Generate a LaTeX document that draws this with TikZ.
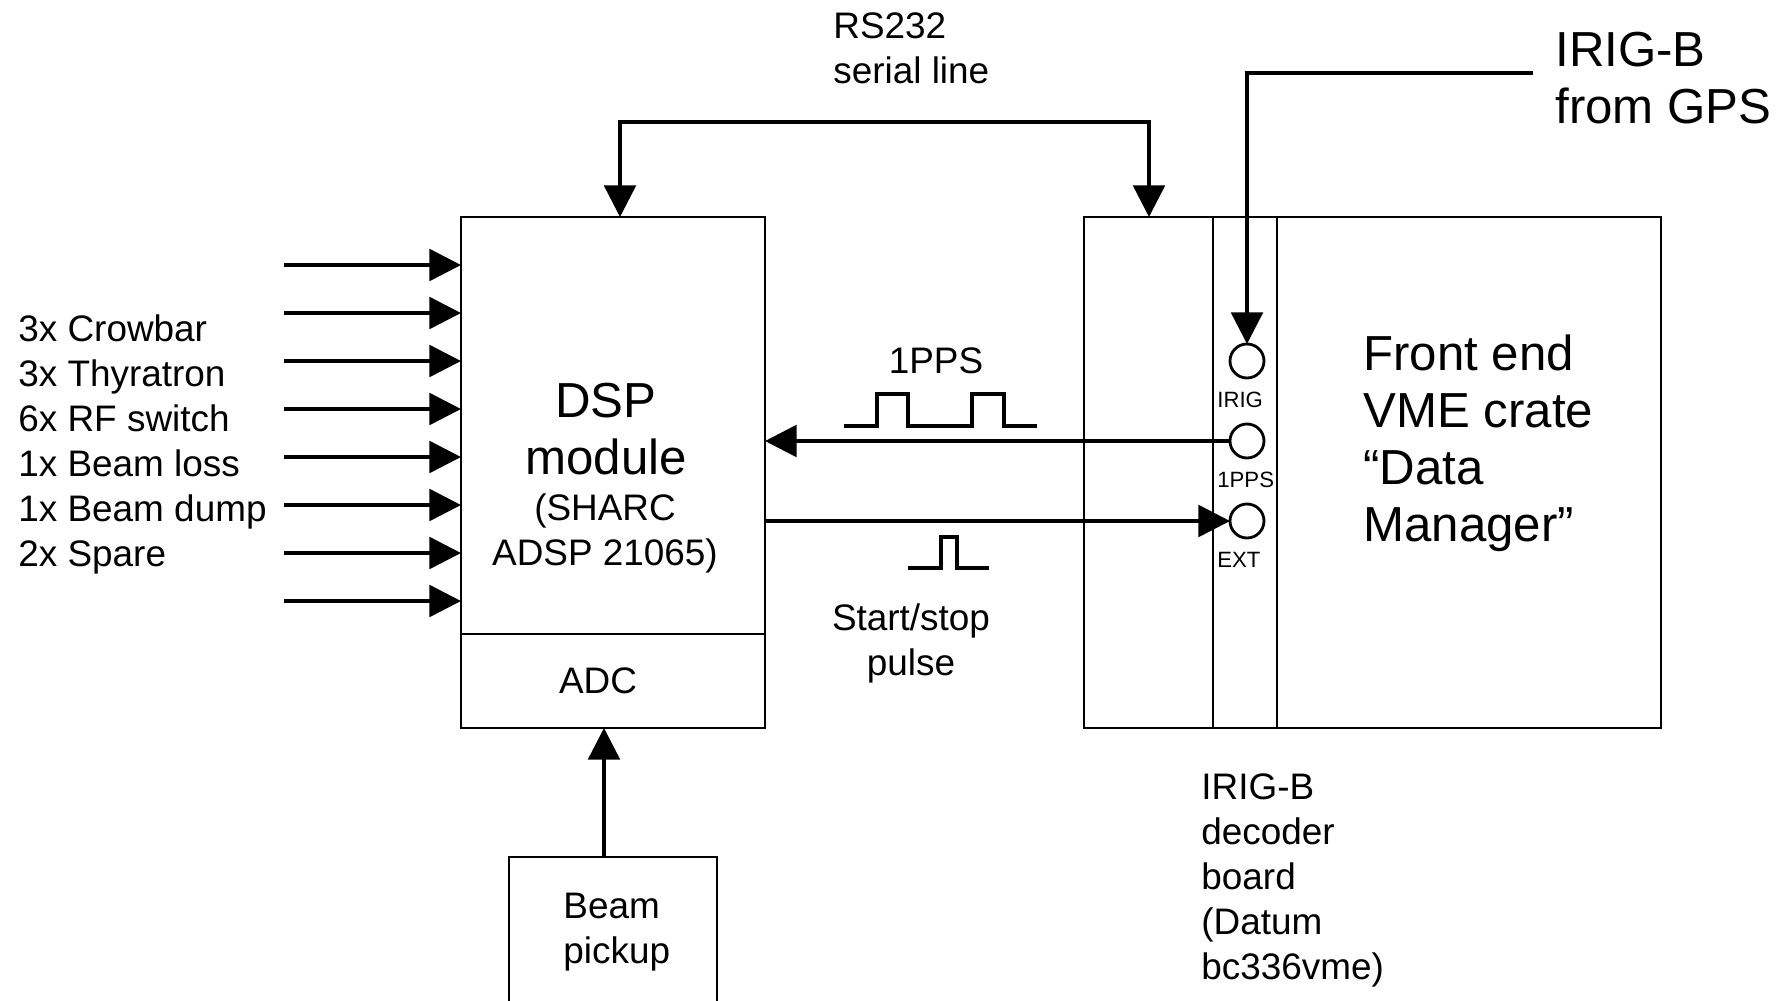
\documentclass[tikz,border=0pt]{standalone}
\usepackage{fontspec}
\setmainfont{Liberation Sans}
\usetikzlibrary{arrows.meta, positioning, calc}

\begin{document}
\begin{tikzpicture}[x=0.1mm, y=-0.1mm, line width=0.8pt,
    box/.style={draw, rectangle, inner sep=0pt, outer sep=0pt},
    port/.style={draw, circle, minimum size=3.4mm, inner sep=0pt, outer sep=0pt},
    arr/.style={line width=1pt, -{Triangle[length=9pt, width=9pt]}},
    txt/.style={inner sep=0pt, font=\fontsize{10.5}{12.8}\selectfont},
    bigtxt/.style={inner sep=0pt, font=\fontsize{14}{16.2}\selectfont},
    tinytxt/.style={inner sep=0pt, anchor=west, font=\fontsize{6.3}{7}\selectfont}]
    \useasboundingbox (0,0) rectangle (1784,1000);
    \clip (0,0) rectangle (1784,1000);

    \node[box, minimum width=30.4mm, minimum height=41.7mm] (dsp) at (613,425.5) {};
    \node[box, minimum width=30.4mm, minimum height=9.4mm, below=0pt of dsp] (adc) {};
    \node[box, minimum width=20.8mm, minimum height=20mm, anchor=north] (pickup) at (613,857) {};
    \node[box, minimum width=57.7mm, minimum height=51.1mm] (crate) at (1372.5,472.5) {};
    \node[box, minimum width=6.4mm, minimum height=51.1mm] (strip) at (1245,472.5) {};
    \node[port] (irig) at (1247,361) {};
    \node[port] (pps) at (1247,441) {};
    \node[port] (ext) at (1247,521) {};
    \node[tinytxt] (irigtxt) at (1216,400) {IRIG};
    \node[tinytxt] (ppsport) at (1216,480) {1PPS};
    \node[tinytxt] (exttxt) at (1216,560) {EXT};

    \node[bigtxt, align=center] (dsptxt) at (606,429) {DSP\\module};
    \node[txt, align=center] (sharc) at (605,533) {(SHARC\\ADSP 21065)};
    \node[txt] (adctxt) at (598,681) {ADC};
    \node[txt, align=left, anchor=west] (picktxt) at (562,932) {Beam\\pickup};
    \node[txt, align=left, anchor=west] (inputs) at (17,444)
        {3x Crowbar\\3x Thyratron\\6x RF switch\\1x Beam loss\\1x Beam dump\\2x Spare};
    \node[txt, align=left, anchor=west] (rs) at (832,48) {RS232\\serial line};
    \node[txt] (ppstxt) at (936,361) {1PPS};
    \node[txt, align=center] (sstxt) at (911,643) {Start/stop\\pulse};
    \node[bigtxt, align=left, anchor=west] (fetxt) at (1362,443) {Front end\\VME crate\\“Data\\Manager”};
    \node[txt, align=left, anchor=west] (dectxt) at (1200,880) {IRIG-B\\decoder\\board\\(Datum\\bc336vme)};
    \node[bigtxt, align=left, anchor=west, inner xsep=2.1mm] (gps) at (1533,78) {IRIG-B\\from GPS};

    \foreach \y [count=\i] in {265,313,...,601} {
        \coordinate (in\i) at (284,\y);
        \draw[arr] (in\i) -- (in\i -| dsp.west);
    }
    \draw[line width=1pt, {Triangle[length=9pt, width=9pt]}-{Triangle[length=9pt, width=9pt]}]
        ($(dsp.north)+(7,0)$) -- ++(0,-95) -| ($(crate.north west)+(65,0)$);
    \draw[arr] ($(gps.west)+(0,-5)$) -| (irig.north);
    \draw[arr] (pps.west) -- (pps.west -| dsp.east);
    \draw[arr] (ext.west -| dsp.east) -- (ext.west);
    \draw[arr] ($(pickup.north)+(-9,0)$) -- ($(adc.south)+(-9,0)$);

    % pulse shapes
    \draw[line width=1pt] (844,426) -| (877,394) -| (908,426) -| (972,394) -| (1004,426) -- (1037,426);
    \draw[line width=1pt] (908,568) -| (941,537) -| (957,568) -- (989,568);
\end{tikzpicture}
\end{document}
